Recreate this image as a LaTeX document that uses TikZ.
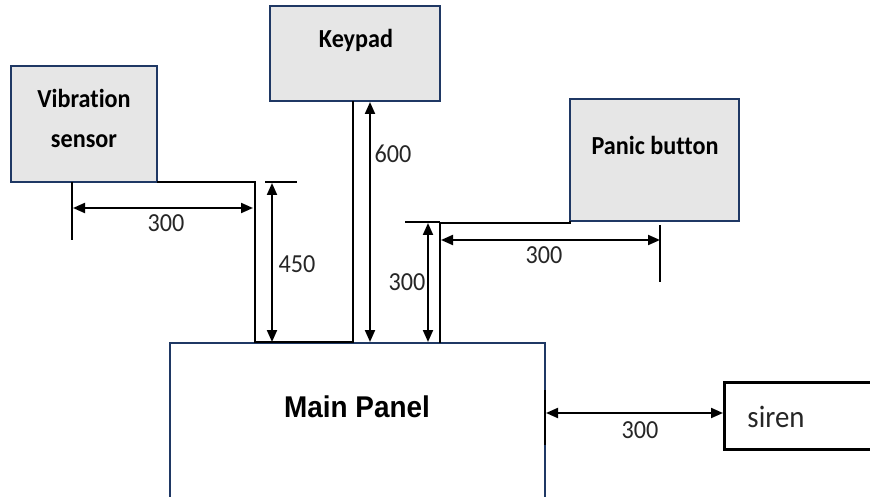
\documentclass[tikz,border=0pt]{standalone}
\usepackage{fontspec}
\setmainfont{Carlito}[FakeStretch=0.93,Ligatures=NoCommon]
\newfontfamily\carb{Carlito Bold}[FakeStretch=0.93,Ligatures=NoCommon]
\newfontfamily\arialb{Liberation Sans Bold}[FakeStretch=0.93]
\usetikzlibrary{arrows.meta}
\definecolor{navy}{HTML}{1F3864}
\definecolor{boxgray}{HTML}{E6E6E6}
\tikzset{
  box/.style={draw=navy, fill=boxgray, line width=2pt, rectangle, inner sep=0pt, outer sep=0pt, anchor=north west},
  mainbox/.style={draw=navy, fill=white, line width=2pt, rectangle, inner sep=0pt, outer sep=0pt, anchor=north west},
  sirenbox/.style={draw=black, fill=white, line width=3pt, rectangle, inner sep=0pt, outer sep=0pt, anchor=north west},
  lbl/.style={font=\carb\fontsize{26}{30}\selectfont, anchor=base, inner sep=0pt},
  dimlbl/.style={font=\fontsize{26}{30}\selectfont, anchor=base, inner sep=0pt, text=black!85},
  wire/.style={draw=black, line width=1.8pt},
  extl/.style={draw=black, line width=1.8pt},
  dimarrow/.style={draw=black, line width=2pt, {Triangle[length=12pt,width=10pt]}-{Triangle[length=12pt,width=10pt]}},
}
\begin{document}
\begin{tikzpicture}[x=1pt,y=-1pt]
\useasboundingbox (0,0) rectangle (870,497);
% boxes
\node[mainbox, minimum width=375pt, minimum height=156pt] (main) at (170,343) {};
\node[box, minimum width=146pt, minimum height=116pt] (vib) at (11,66) {};
\node[box, minimum width=170pt, minimum height=95pt] (key) at (270,6) {};
\node[box, minimum width=169pt, minimum height=122pt] (pan) at (570,99) {};
\node[sirenbox, minimum width=180pt, minimum height=67pt] (siren) at (724,382) {};
% box texts
\node[lbl] (vibt1) at (84,108) {Vibration};
\node[lbl] (vibt2) at (84,148) {sensor};
\node[lbl] (keyt) at (356,48) {Keypad};
\node[lbl] (pant) at (655,155) {Panic button};
\node[font=\arialb\fontsize{30}{34}\selectfont, anchor=base, inner sep=0pt] (maint) at (357,417) {Main Panel};
\node[font=\fontsize{31}{34}\selectfont, anchor=base, inner sep=0pt, text=black!85] (sirent) at (776,427) {siren};
% wiring coordinates
\coordinate (w1) at (255,182);
\coordinate (w2) at (255,342);
\coordinate (w3) at (353,342);
\coordinate (w4) at (353,101);
\coordinate (p1) at (570,223);
\coordinate (p2) at (440,223);
\coordinate (p3) at (440,343);
\draw[wire] (vib.south east) -- (w1) -- (w2) -- (w3) -- (w4);
\draw[wire] (pan.south west) -- (p1) -- (p2) -- (p3);
% extension lines
\coordinate (e1a) at (72,182); \coordinate (e1b) at (72,240);
\coordinate (e2a) at (265,182); \coordinate (e2b) at (297,182);
\coordinate (e3a) at (405,222); \coordinate (e3b) at (440,222);
\coordinate (e4a) at (660,225); \coordinate (e4b) at (660,282);
\coordinate (e5a) at (545,390); \coordinate (e5b) at (545,445);
\draw[extl] (e1a) -- (e1b);
\draw[extl] (e2a) -- (e2b);
\draw[extl] (e3a) -- (e3b);
\draw[extl] (e4a) -- (e4b);
\draw[extl] (e5a) -- (e5b);
% dimension arrows
\coordinate (d1a) at (73,208); \coordinate (d1b) at (253,208);
\coordinate (d2a) at (272,183); \coordinate (d2b) at (272,342);
\coordinate (d3a) at (370,102); \coordinate (d3b) at (370,342);
\coordinate (d4a) at (428,223); \coordinate (d4b) at (428,342);
\coordinate (d5a) at (441,240); \coordinate (d5b) at (660,240);
\coordinate (d6a) at (546,413); \coordinate (d6b) at (723,413);
\draw[dimarrow] (d1a) -- (d1b);
\draw[dimarrow] (d2a) -- (d2b);
\draw[dimarrow] (d3a) -- (d3b);
\draw[dimarrow] (d4a) -- (d4b);
\draw[dimarrow] (d5a) -- (d5b);
\draw[dimarrow] (d6a) -- (d6b);
% dimension labels
\node[dimlbl] (l1) at (166,232) {300};
\node[dimlbl] (l2) at (297,272) {450};
\node[dimlbl] (l3) at (393,163) {600};
\node[dimlbl] (l4) at (407,290) {300};
\node[dimlbl] (l5) at (544,263) {300};
\node[dimlbl] (l6) at (640,438) {300};
\end{tikzpicture}
\end{document}
